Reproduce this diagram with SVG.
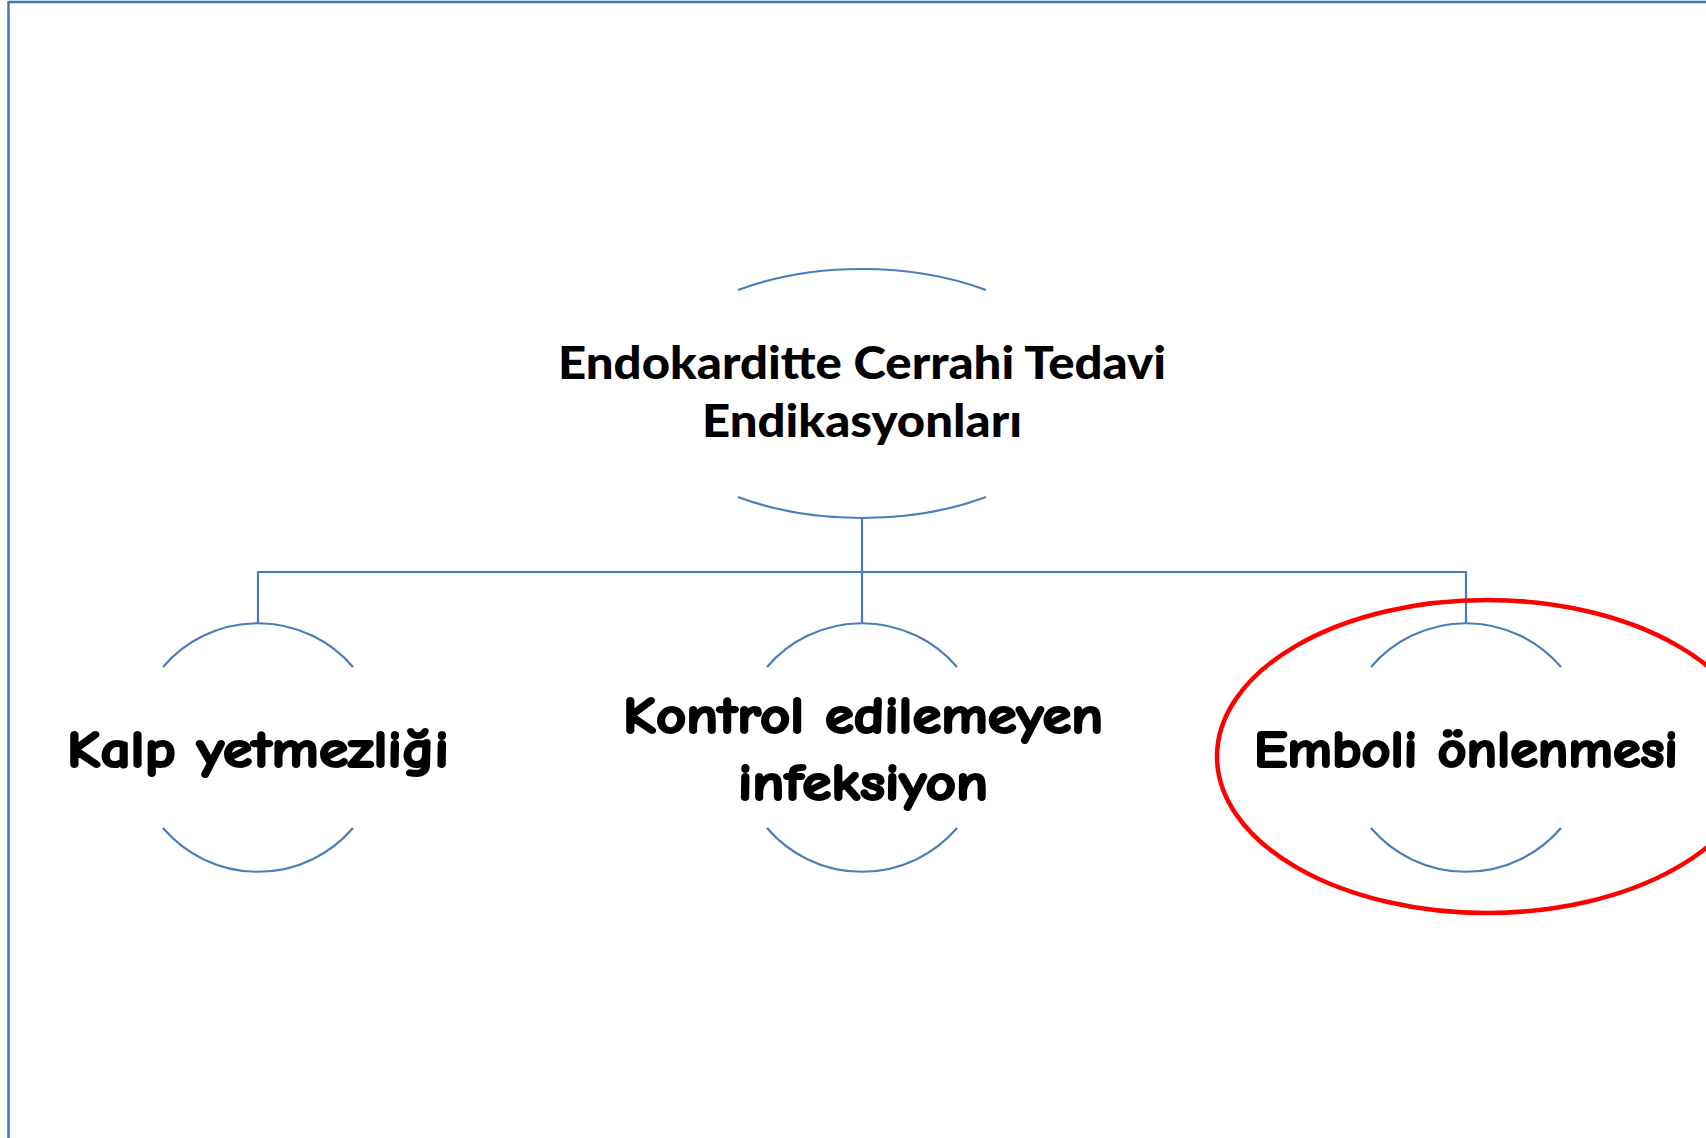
<svg xmlns="http://www.w3.org/2000/svg" width="1706" height="1138" viewBox="0 0 1706 1138">
<style>
.frame{stroke:#3B78B8;stroke-width:2.5;fill:none}
.arc{stroke:#4A7EBB;stroke-width:2.2;fill:none}
.conn{stroke:#4A7EBB;stroke-width:2.2;fill:none}
.title{font-family:Lato,"Open Sans","Liberation Sans",sans-serif;font-weight:900;font-size:45px;fill:#000;text-anchor:middle}
.child{font-family:"Comic Sans MS","Comic Neue","DejaVu Sans",sans-serif;font-weight:bold;font-size:52px;fill:#000;stroke:#000;stroke-width:2.2;stroke-linejoin:round;text-anchor:middle}
</style>
<rect width="1706" height="1138" fill="#fff"/>
<g id="frame">
<line class="frame" x1="8.5" y1="2" x2="1706" y2="2"/>
<line class="frame" x1="8.5" y1="1" x2="8.5" y2="1138"/>
</g>
<g id="connectors">
<path class="conn" d="M862 518 V572 M258 623 V572 H1466 V623 M862 572 V623"/>
</g>
<g id="root">
<path class="arc" d="M738 290 A223 124.5 0 0 1 986 290"/>
<path class="arc" d="M738 497 A223 124.5 0 0 0 986 497"/>
<text class="title" x="862" y="379" textLength="608" lengthAdjust="spacingAndGlyphs">Endokarditte Cerrahi Tedavi</text>
<text class="title" x="862" y="437" textLength="320" lengthAdjust="spacingAndGlyphs">Endikasyonları</text>
</g>
<g id="node-kalp">
<path class="arc" d="M163 667 A125 125 0 0 1 353 667"/>
<path class="arc" d="M163 828 A125 125 0 0 0 353 828"/>
<text class="child" x="258" y="767" textLength="382" lengthAdjust="spacingAndGlyphs">Kalp yetmezliği</text>
</g>
<g id="node-kontrol">
<path class="arc" d="M767 667 A125 125 0 0 1 957 667"/>
<path class="arc" d="M767 828 A125 125 0 0 0 957 828"/>
<text class="child" x="863" y="733" textLength="480" lengthAdjust="spacingAndGlyphs">Kontrol edilemeyen</text>
<text class="child" x="863" y="800" textLength="250" lengthAdjust="spacingAndGlyphs">infeksiyon</text>
</g>
<g id="node-emboli">
<path class="arc" d="M1371 667 A125 125 0 0 1 1561 667"/>
<path class="arc" d="M1371 828 A125 125 0 0 0 1561 828"/>
<text class="child" x="1466" y="767" textLength="424" lengthAdjust="spacingAndGlyphs">Emboli önlenmesi</text>
</g>
<g id="highlight">
<ellipse cx="1487" cy="756.5" rx="270" ry="156.5" fill="none" stroke="#FF0000" stroke-width="4.5"/>
</g>
</svg>
